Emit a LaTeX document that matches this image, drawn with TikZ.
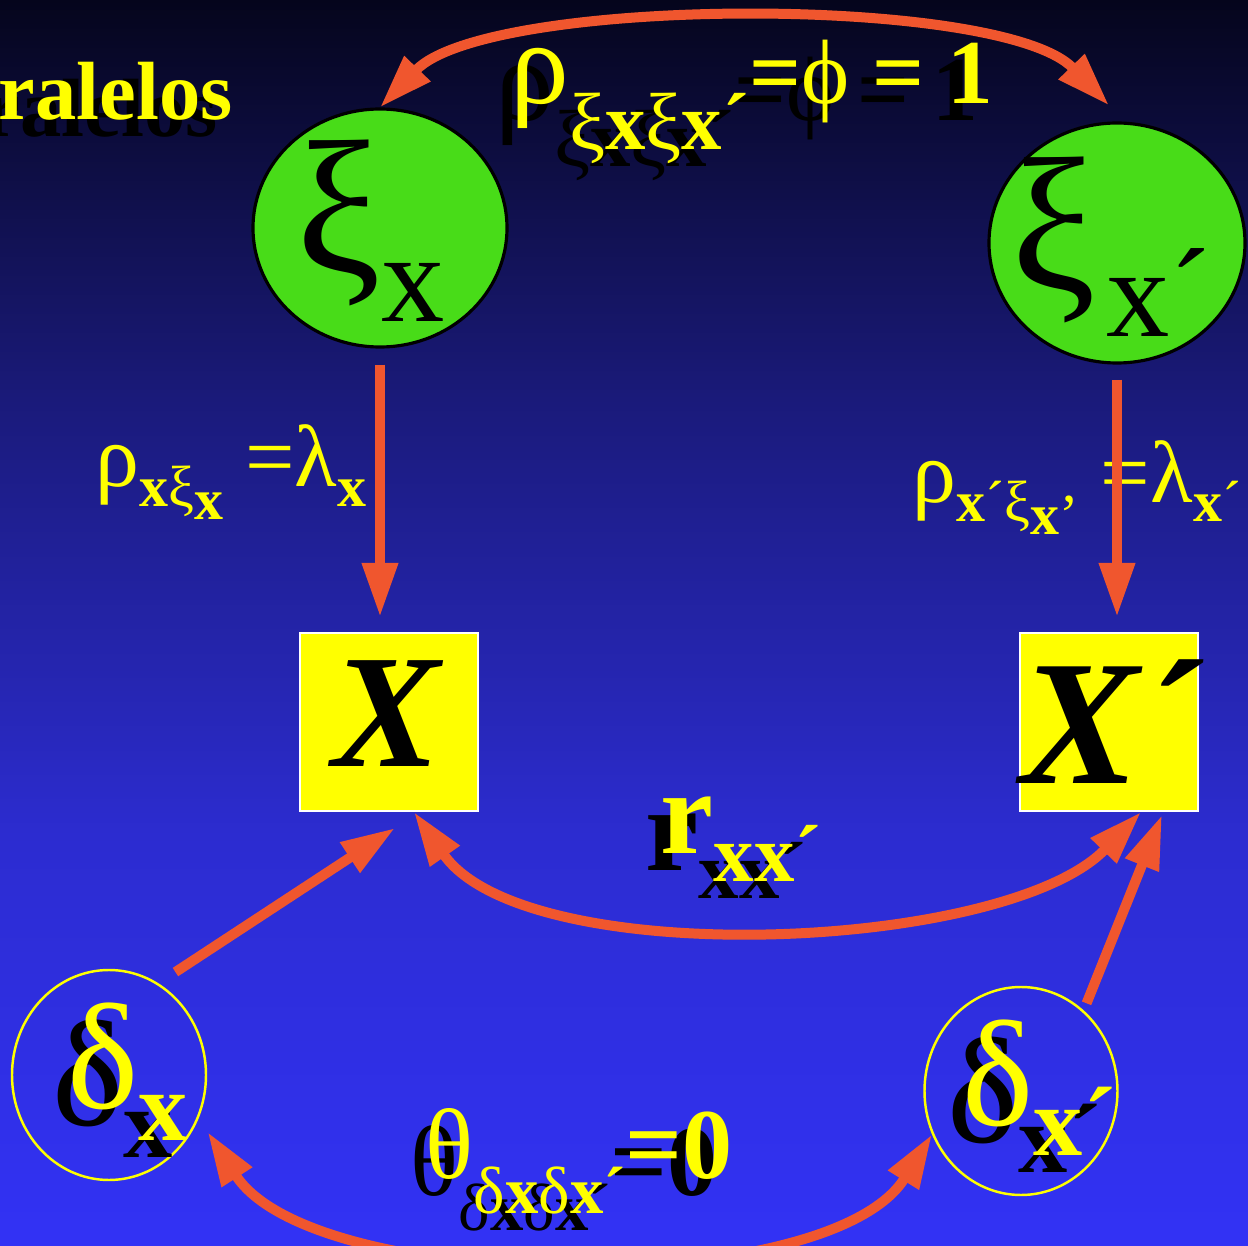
\documentclass[tikz,border=0pt]{standalone}
\usepackage{fontspec}
\setmainfont{Liberation Serif}
\usetikzlibrary{arrows.meta,shapes.geometric,calc}
\definecolor{bgtop}  {RGB}{  5,  5, 28}
\definecolor{bgmid}  {RGB}{ 26, 26,122}
\definecolor{bglow}  {RGB}{ 44, 44,208}
\definecolor{bgbot}  {RGB}{ 50, 50,245}
\definecolor{arrred} {RGB}{240, 86, 46}
\definecolor{lblyel} {RGB}{255,255,  0}
\definecolor{latgrn} {RGB}{ 72,220, 24}
% stops between 25bp (bottom) and 75bp (top)
\pgfdeclareverticalshading{bgshade}{100bp}{color(0bp)=(bgbot); color(25bp)=(bgbot);
  color(41.5bp)=(bglow); color(59bp)=(bgmid); color(75bp)=(bgtop); color(100bp)=(bgtop)}
\newcommand{\fsz}[1]{\fontsize{#1}{#1}\selectfont}
\tikzset{
  latent/.style={ellipse,draw=black,fill=latgrn,line width=0.9pt,inner sep=0},
  obs/.style={rectangle,draw=white,fill=lblyel,line width=0.6pt,
              minimum width=17.8mm,minimum height=17.8mm,inner sep=0},
  err/.style={ellipse,draw=lblyel,line width=0.7pt,inner sep=0},
  lbl/.style={text=lblyel,inner sep=0,anchor=base west},
  lblsh/.style={lbl,text=black,xshift=-1.5mm,yshift=-1.7mm},
  blk/.style={text=black,inner sep=0,anchor=base west},
  arr/.style={-{Triangle[length=5.4mm,width=3.4mm]},line width=1mm,draw=arrred},
  arrboth/.style={arr,{Triangle[length=5.4mm,width=3.4mm]}-{Triangle[length=5.4mm,width=3.4mm]}},
}
% shadowed label: black copy below, yellow on top
\newcommand{\shlbl}[3]{\node[lblsh] at (#2) {#3}; \node[lbl] (#1) at (#2) {#3};}

\begin{document}
\begin{tikzpicture}[x=0.1mm,y=-0.1mm]
  \useasboundingbox (0,0) rectangle (1248,1246);
  \shade[shading=bgshade] (0,0) rectangle (1248,1246);

  % true scores
  \node[latent,minimum width=25.4mm,minimum height=23.8mm](xi1) at (380,228){};
  \node[latent,minimum width=25.6mm,minimum height=24mm](xi2) at (1117,243){};
  % observed scores
  \node[obs](X) at (389,722){};
  \node[obs](Xp) at (1109,722){};
  % errors
  \node[err,minimum width=19.4mm,minimum height=21mm](d1) at (109,1075){};
  \node[err,minimum width=19.3mm,minimum height=20.8mm](d2) at (1021,1091){};

  % node texts
  \node[blk](xi1t) at ([xshift=-8.4mm,yshift=-4.5mm]xi1.center)
    {{\fsz{54}ξ}\raisebox{-4.9mm}{\fsz{36}x}};
  \node[blk](xi2t) at ([xshift=-10.6mm,yshift=-4.7mm]xi2.center)
    {{\fsz{54}ξ}\hspace{1mm}\raisebox{-4.7mm}{\fsz{36}x´}};
  \node[blk](Xt) at ([xshift=-5.7mm,yshift=-4.5mm]X.center)
    {\fsz{46}\textbf{\textit{X}}};
  \node[blk](Xpt) at ([xshift=-8.9mm,yshift=-6.1mm]Xp.center)
    {\fsz{50.7}\textbf{\textit{X´}}};
  \shlbl{d1t}{[xshift=-4.2mm,yshift=-3.3mm]d1.center}
    {{\fsz{43}δ}\raisebox{-3.2mm}{\fsz{28}\textbf{x}}}
  \shlbl{d2t}{[xshift=-5.9mm,yshift=-3.4mm]d2.center}
    {{\fsz{43}δ}\raisebox{-3mm}{\fsz{28}\textbf{x´}}}

  % title
  \shlbl{ttl}{-2,120}{\fsz{23.5}\textbf{ralelos}}

  % coefficients
  \shlbl{phi}{510,104}
    {{\fsz{33.5}ρ}\raisebox{-4.6mm}{\fsz{23}ξ\textbf{x}ξ\textbf{x´}}{\fsz{26}\textbf{=}ϕ\textbf{ = 1}}}
  \node[lbl](lam1) at (95,487)
    {{\fsz{25}ρ}\raisebox{-2mm}{\fsz{16.5}\textbf{x}ξ\raisebox{-1.3mm}{\textbf{x}}}{\fsz{25} =λ}\raisebox{-2mm}{\fsz{16.5}\textbf{x}}};
  \node[lbl](lam2) at (912,503)
    {{\fsz{25}ρ}\raisebox{-1.9mm}{\fsz{16.5}\textbf{x}´ξ\raisebox{-1.3mm}{\textbf{x}’}}{\fsz{25} =λ}\raisebox{-1.9mm}{\fsz{16.5}\textbf{x}´}};
  \shlbl{rxx}{660,853}
    {{\fsz{34}\textbf{r}}\raisebox{-2.9mm}{\fsz{23}\textbf{xx´}}}
  \shlbl{theta}{425,1178}
    {{\fsz{28.5}θ}\raisebox{-3.5mm}{\fsz{19}δ\textbf{x}δ\textbf{x´}}{\fsz{28.5}\textbf{=0}}}

  % Arrows
  \draw[arrboth](xi1.north) .. controls +(46:15.5mm) and +(134:15.5mm) .. ([shift={(-0.8mm,1.6mm)}]xi2.north);
  \draw[arr,shorten <=1.6mm,shorten >=1.5mm](xi1.south)--(xi1.south|-X.north);
  \draw[arr,shorten <=1.5mm,shorten >=1.5mm](xi2.south)--(xi2.south|-Xp.north);
  \draw[arrboth]([xshift=2.5mm]X.south) .. controls +(-55:19.5mm) and +(-134:19.5mm) .. ([xshift=3.2mm]Xp.south);
  \draw[arr]([shift={(1mm,1.6mm)}]d1.57)--([shift={(0.6mm,-1.6mm)}]X.south);
  \draw[arr]([shift={(0.4mm,0.6mm)}]d2.53)--([shift={(5.3mm,-0.3mm)}]Xp.south);
  \draw[arrboth]([shift={(1.2mm,-0.7mm)}]d1.-30) .. controls +(-57:19.5mm) and +(-122:19.5mm) .. (d2.206);
\end{tikzpicture}
\end{document}
